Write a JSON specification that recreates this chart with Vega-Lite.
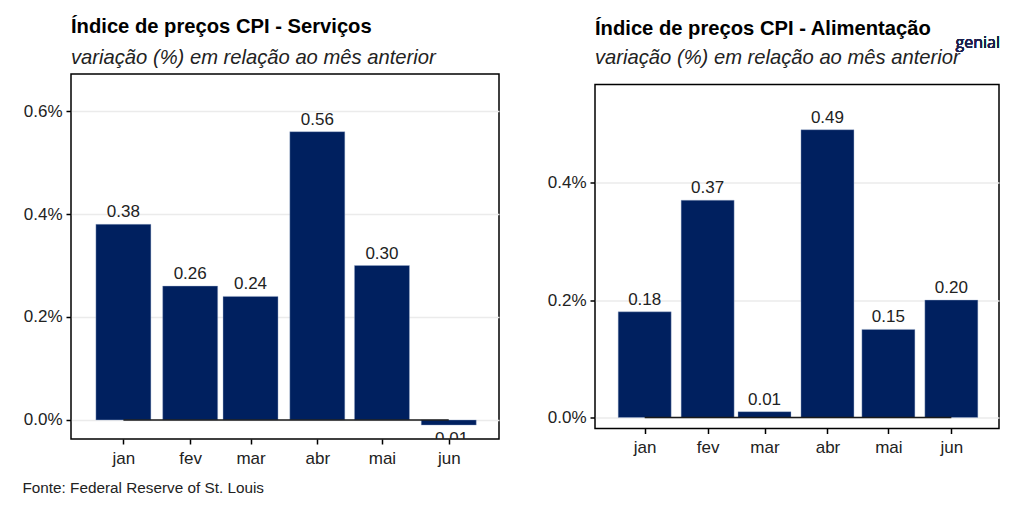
{
  "$schema": "https://vega.github.io/schema/vega-lite/v6.json",
  "padding": {"left": 22, "top": 15, "right": 10, "bottom": 5},
  "background": "white",
  "bounds": "flush",
  "align": "each",
  "center": {"row": true, "column": false},
  "spacing": 96,
  "title": {"text": "Fonte: Federal Reserve of St. Louis", "orient": "bottom", "anchor": "start", "frame": "bounds", "fontSize": 15.3, "fontWeight": "normal", "font": "Liberation Sans", "color": "#222222", "offset": 14},
  "config": {
    "font": "Liberation Sans",
    "view": {"stroke": "black", "strokeWidth": 1.5},
    "axis": {"labelFont": "Liberation Sans", "labelFontSize": 17, "labelColor": "#222222", "tickColor": "black", "tickWidth": 1.5, "tickSize": 5, "domain": false, "title": null},
    "locale": {"number": {"decimal": ".", "thousands": ",", "grouping": [3], "currency": ["$", ""], "minus": "-"}}
  },
  "datasets": {
    "servicos": [
      {"date": "2023-01-01", "value": 0.38},
      {"date": "2023-02-01", "value": 0.26},
      {"date": "2023-03-01", "value": 0.24},
      {"date": "2023-04-01", "value": 0.56},
      {"date": "2023-05-01", "value": 0.30},
      {"date": "2023-06-01", "value": -0.01}
    ],
    "alimentacao": [
      {"date": "2023-01-01", "value": 0.18},
      {"date": "2023-02-01", "value": 0.37},
      {"date": "2023-03-01", "value": 0.01},
      {"date": "2023-04-01", "value": 0.49},
      {"date": "2023-05-01", "value": 0.15},
      {"date": "2023-06-01", "value": 0.20}
    ]
  },
  "hconcat": [
    {
      "width": 428,
      "height": 365,
      "title": {"text": "Índice de preços CPI - Serviços", "subtitle": "variação (%) em relação ao mês anterior", "anchor": "start", "frame": "group", "font": "Liberation Sans", "fontSize": 20.2, "fontWeight": "bold", "color": "black", "subtitleFont": "Liberation Sans", "subtitleFontSize": 20.2, "subtitleFontStyle": "italic", "subtitleColor": "#222222", "offset": 6, "subtitlePadding": 11},
      "data": {"name": "servicos"},
      "encoding": {
        "x": {"field": "date", "type": "temporal",
              "scale": {"type": "utc", "domain": [{"year": 2022, "month": 12, "date": 10, "utc": true}, {"year": 2023, "month": 6, "date": 22, "utc": true}]},
              "axis": {"values": [{"year": 2023, "month": 1, "date": 1, "utc": true}, {"year": 2023, "month": 2, "date": 1, "utc": true}, {"year": 2023, "month": 3, "date": 1, "utc": true}, {"year": 2023, "month": 4, "date": 1, "utc": true}, {"year": 2023, "month": 5, "date": 1, "utc": true}, {"year": 2023, "month": 6, "date": 1, "utc": true}],
                       "labelExpr": "['jan','fev','mar','abr','mai','jun','jul','ago','set','out','nov','dez'][utcmonth(datum.value)]", "grid": false, "labelPadding": 6}},
        "y": {"field": "value", "type": "quantitative",
              "scale": {"domain": [-0.037, 0.672], "nice": false, "zero": false},
              "axis": {"values": [0, 0.2, 0.4, 0.6], "labelExpr": "format(datum.value, '.1f') + '%'", "grid": true, "gridColor": "#EBEBEB", "gridWidth": 1.5, "labelPadding": 4}}
      },
      "layer": [
        {"mark": {"type": "bar", "width": 55, "color": "#00205f", "stroke": "#9fb0d0", "strokeWidth": 0.4}},
        {"mark": {"type": "line", "color": "#1a1a1a", "strokeWidth": 1.5}, "encoding": {"y": {"datum": 0}}},
        {"transform": [{"filter": "datum.value >= 0"}],
         "mark": {"type": "text", "baseline": "bottom", "dy": -3, "fontSize": 17, "color": "#222222", "font": "Liberation Sans"},
         "encoding": {"text": {"field": "value", "type": "quantitative", "format": ".2f"}}},
        {"transform": [{"filter": "datum.value < 0"}],
         "mark": {"type": "text", "baseline": "top", "dy": 6, "fontSize": 17, "color": "#222222", "font": "Liberation Sans", "clip": true},
         "encoding": {"text": {"field": "value", "type": "quantitative", "format": ".2f"}}}
      ]
    },
    {
      "width": 404,
      "height": 344,
      "title": {"text": "Índice de preços CPI - Alimentação", "subtitle": "variação (%) em relação ao mês anterior", "anchor": "start", "frame": "group", "font": "Liberation Sans", "fontSize": 20.2, "fontWeight": "bold", "color": "black", "subtitleFont": "Liberation Sans", "subtitleFontSize": 20.2, "subtitleFontStyle": "italic", "subtitleColor": "#222222", "offset": -33, "subtitlePadding": 8},
      "data": {"name": "alimentacao"},
      "encoding": {
        "x": {"field": "date", "type": "temporal",
              "scale": {"type": "utc", "domain": [{"year": 2022, "month": 12, "date": 10, "utc": true}, {"year": 2023, "month": 6, "date": 22, "utc": true}]},
              "axis": {"values": [{"year": 2023, "month": 1, "date": 1, "utc": true}, {"year": 2023, "month": 2, "date": 1, "utc": true}, {"year": 2023, "month": 3, "date": 1, "utc": true}, {"year": 2023, "month": 4, "date": 1, "utc": true}, {"year": 2023, "month": 5, "date": 1, "utc": true}, {"year": 2023, "month": 6, "date": 1, "utc": true}],
                       "labelExpr": "['jan','fev','mar','abr','mai','jun','jul','ago','set','out','nov','dez'][utcmonth(datum.value)]", "grid": false, "labelPadding": 6}},
        "y": {"field": "value", "type": "quantitative",
              "scale": {"domain": [-0.0187, 0.567], "nice": false, "zero": false},
              "axis": {"values": [0, 0.2, 0.4], "labelExpr": "format(datum.value, '.1f') + '%'", "grid": true, "gridColor": "#EBEBEB", "gridWidth": 1.5, "labelPadding": 4}}
      },
      "layer": [
        {"mark": {"type": "bar", "width": 53, "color": "#00205f", "stroke": "#9fb0d0", "strokeWidth": 0.4}},
        {"mark": {"type": "line", "color": "#1a1a1a", "strokeWidth": 1.5}, "encoding": {"y": {"datum": 0}}},
        {"mark": {"type": "text", "baseline": "bottom", "dy": -3, "fontSize": 17, "color": "#222222", "font": "Liberation Sans"},
         "encoding": {"text": {"field": "value", "type": "quantitative", "format": ".2f"}}},
        {"mark": {"type": "text", "text": "genial", "font": "Open Sans", "fontWeight": 400, "fontSize": 16, "color": "#1c1f4d"},
         "encoding": {"x": {"datum": {"year": 2023, "month": 6, "date": 14, "utc": true}, "type": "temporal"}, "y": {"datum": 0.638}, "text": null}}
      ]
    }
  ]
}
